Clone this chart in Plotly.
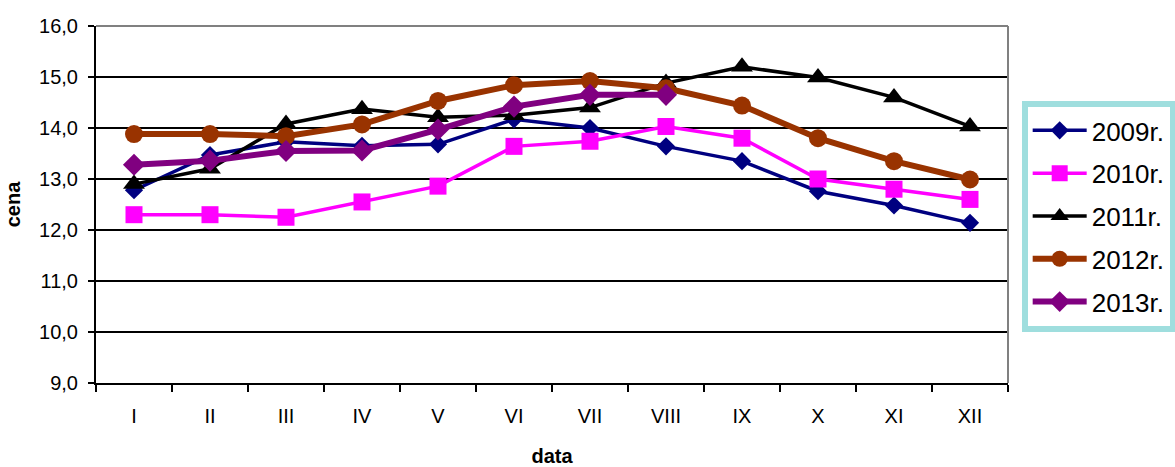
import plotly.graph_objects as go

months = ["I", "II", "III", "IV", "V", "VI", "VII", "VIII", "IX", "X", "XI", "XII"]

y2009 = [12.78, 13.47, 13.73, 13.65, 13.68, 14.17, 14.00, 13.64, 13.35, 12.76, 12.48, 12.14]
y2010 = [12.30, 12.30, 12.25, 12.55, 12.86, 13.64, 13.74, 14.03, 13.80, 13.00, 12.80, 12.60]
y2011 = [12.90, 13.20, 14.08, 14.37, 14.21, 14.25, 14.40, 14.88, 15.20, 14.99, 14.60, 14.03]
y2012 = [13.88, 13.88, 13.84, 14.07, 14.53, 14.84, 14.92, 14.78, 14.44, 13.80, 13.35, 12.99]
y2013 = [13.28, 13.36, 13.55, 13.56, 13.97, 14.42, 14.65, 14.65, None, None, None, None]

series = [
    ("2009r.", y2009, "#000080", "diamond", 14, 3.5),
    ("2010r.", y2010, "#FF00FF", "square", 17, 3.5),
    ("2011r.", y2011, "#000000", "triangle-up", 19, 3.5),
    ("2012r.", y2012, "#993300", "circle", 18, 6),
    ("2013r.", y2013, "#800080", "diamond", 17, 6),
]

fig = go.Figure()
for name, ys, color, sym, msize, lw in series:
    fig.add_trace(go.Scatter(
        x=months, y=ys, name=name, mode="lines+markers",
        legendgroup=name,
        line=dict(color=color, width=lw),
        marker=dict(symbol=sym, size=msize, color=color, line=dict(width=0)),
        connectgaps=False,
    ))

font_family = "Liberation Sans, Arial, sans-serif"

fig.update_layout(
    width=1175, height=467,
    margin=dict(l=96, r=167, t=26, b=84, autoexpand=False),
    paper_bgcolor="white", plot_bgcolor="white",
    separators=",.",
    font=dict(family=font_family, size=20, color="black"),
    showlegend=True,
    legend=dict(
        x=1.015, xanchor="left", y=0.79, yanchor="top",
        bgcolor="white", bordercolor="#9fdede", borderwidth=6,
        font=dict(family=font_family, size=26, color="black"),
        itemwidth=54, tracegroupgap=6, entrywidth=180,
    ),
    xaxis=dict(
        type="category", range=[-0.5, 11.5], automargin=False,
        tickson="boundaries", ticks="outside", ticklen=7, tickwidth=1.5, tickcolor="black",
        showline=True, linecolor="black", linewidth=2,
        showgrid=False, ticklabelstandoff=14,
        tickfont=dict(family=font_family, size=20, color="black"),
        title=dict(text="<b>data</b>", font=dict(family=font_family, size=20, color="black"), standoff=25),
    ),
    yaxis=dict(
        range=[9, 16], dtick=1, tickformat=".1f", automargin=False,
        ticks="outside", ticklen=6, tickwidth=1.5, tickcolor="black",
        showline=True, linecolor="black", linewidth=2,
        showgrid=True, gridcolor="black", gridwidth=2,
        zeroline=False, ticklabelstandoff=6,
        tickfont=dict(family=font_family, size=20, color="black"),
        title=dict(text="<b>cena</b>", font=dict(family=font_family, size=20, color="black"), standoff=13),
    ),
    shapes=[
        dict(type="line", xref="paper", yref="paper", x0=0, x1=1, y0=1, y1=1,
             line=dict(color="#808080", width=2), layer="above"),
        dict(type="line", xref="paper", yref="paper", x0=1, x1=1, y0=0, y1=1,
             line=dict(color="#808080", width=2), layer="above"),
    ],
)

fig.write_html(
    "out.html",
    config={"displayModeBar": False},
    post_script="document.body.style.margin='0';document.body.style.overflow='hidden';",
)
